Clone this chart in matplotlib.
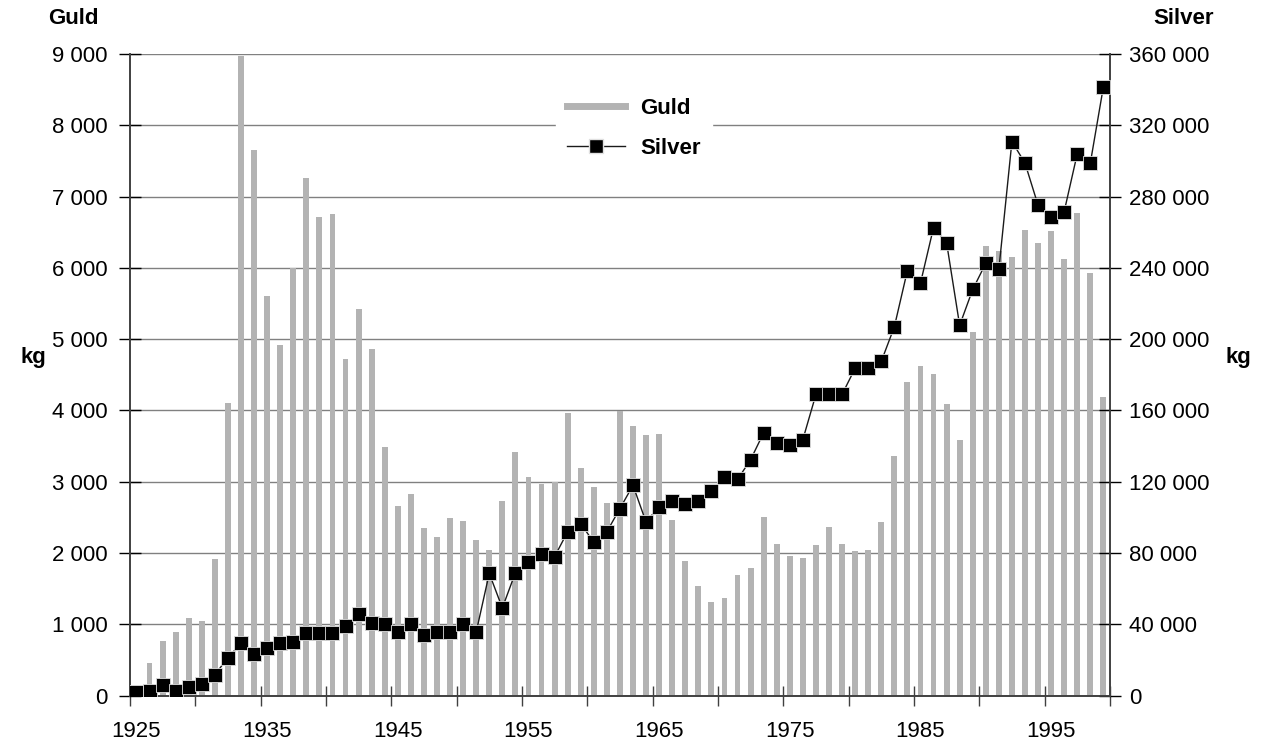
import matplotlib
matplotlib.use('Agg')
import matplotlib.pyplot as plt
from matplotlib.lines import Line2D
from matplotlib.ticker import FuncFormatter, FixedLocator
import numpy as np

plt.rcParams['font.family'] = ['Liberation Sans', 'DejaVu Sans']

# years 1925-1999
years = list(range(1925, 2000))

# gold production, kg (left axis)
guld = [30, 455, 762, 892, 1087, 1046, 1915, 4108, 8966, 7660,
        5609, 4917, 5993, 7264, 6714, 6761, 4722, 5426, 4864, 3487,
        2660, 2825, 2352, 2222, 2488, 2447, 2181, 2039, 2730, 3416,
        3067, 2967, 2995, 3966, 3191, 2926, 2701, 3989, 3788, 3658,
        3670, 2465, 1885, 1537, 1312, 1365, 1690, 1791, 2506, 2128,
        1956, 1927, 2110, 2364, 2128, 2027, 2039, 2435, 3363, 4397,
        4628, 4509, 4090, 3587, 5106, 6312, 6241, 6152, 6537, 6353,
        6519, 6129, 6773, 5934, 4190]

# silver production, kg (right axis)
silver = [2100, 2800, 5900, 2600, 5000, 6400, 11800, 21300, 29300, 23600,
          26500, 29500, 30000, 35200, 35200, 35000, 39000, 46100, 40900, 40200,
          35700, 40400, 34000, 35700, 35700, 40000, 35700, 68600, 49200, 69000,
          74900, 79700, 78000, 92000, 96500, 86100, 92000, 105000, 118000, 97400,
          106100, 109500, 107600, 109500, 114700, 122900, 121300, 132400, 147500, 141600,
          140700, 143700, 169000, 169000, 169000, 183700, 183700, 187500, 206900, 238500,
          231400, 262600, 254100, 207800, 227900, 242600, 239200, 310900, 298800, 275200,
          268300, 271600, 304000, 298800, 341600]

year_labels = ['1925', '1935', '1945', '1955', '1965', '1975', '1985', '1995']

x = np.arange(len(years))
fs = 16
spine_col = '#404040'

fig = plt.figure(figsize=(12.64, 7.45), dpi=100)
ax = fig.add_axes([0.1028, 0.0662, 0.7753, 0.8613])
ax2 = ax.twinx()

ax.bar(x, guld, width=0.45, color='#b3b3b3', zorder=2)
ax2.plot(x, silver, color='#1a1a1a', linewidth=1.0, marker='s', markersize=10,
         markerfacecolor='black', markeredgecolor='#e0e0e0', markeredgewidth=0.6,
         zorder=3)

ax.set_xlim(-0.5, len(years) - 0.5)
ax.set_ylim(0, 9000)
ax2.set_ylim(0, 360000)

ax.set_yticks(np.arange(0, 9001, 1000))
ax2.set_yticks(np.arange(0, 360001, 40000))
fmt = FuncFormatter(lambda v, p: f"{int(v):,}".replace(",", " "))
ax.yaxis.set_major_formatter(fmt)
ax2.yaxis.set_major_formatter(fmt)

# ticks between categories every 5 years, labels on categories every 10 years
ax.xaxis.set_major_locator(FixedLocator(np.arange(-0.5, len(years), 5)))
ax.xaxis.set_major_formatter(FuncFormatter(lambda v, p: ''))
lab_pos = [years.index(int(y)) for y in year_labels]
ax.xaxis.set_minor_locator(FixedLocator(lab_pos))
ax.set_xticklabels(year_labels, minor=True)
ax.tick_params(axis='x', which='minor', length=0, pad=18, labelsize=fs)
ax.tick_params(axis='x', which='major', direction='inout', length=14,
               width=1, color=spine_col)

ax.tick_params(axis='y', direction='inout', length=16, width=1, color='black',
               labelsize=fs, pad=8)
ax2.tick_params(axis='y', direction='inout', length=16, width=1, color='black',
                labelsize=fs, pad=6)

ax.grid(axis='y', color='#808080', linewidth=1.0, zorder=0)
ax.set_axisbelow(True)

for a in (ax, ax2):
    a.spines['top'].set_visible(False)
    for s in ('left', 'right', 'bottom'):
        a.spines[s].set_color(spine_col)
        a.spines[s].set_linewidth(1.2)

# axis titles
fig.text(48 / 1264, 1 - 18 / 745, 'Guld', fontsize=fs, fontweight='bold',
         ha='left', va='center')
fig.text(1214 / 1264, 1 - 18 / 745, 'Silver', fontsize=fs, fontweight='bold',
         ha='right', va='center')
fig.text(33 / 1264, 1 - 357 / 745, 'kg', fontsize=fs, fontweight='bold',
         ha='center', va='center')
fig.text(1238 / 1264, 1 - 357 / 745, 'kg', fontsize=fs, fontweight='bold',
         ha='center', va='center')

handles = [Line2D([0], [0], color='#b3b3b3', linewidth=5),
           Line2D([0], [0], color='#1a1a1a', linewidth=1.0, marker='s',
                  markersize=10, markerfacecolor='black', markeredgecolor='#e0e0e0')]
leg = ax2.legend(handles, ['Guld', 'Silver'], loc='center',
                 bbox_to_anchor=(0.514, 0.884), frameon=True, fancybox=False,
                 edgecolor='white', facecolor='white', framealpha=1,
                 prop={'weight': 'bold', 'size': fs}, handlelength=2.6,
                 labelspacing=0.85, borderpad=0.5, handletextpad=0.7)
leg.set_zorder(10)

fig.savefig('out.png', dpi=100)
